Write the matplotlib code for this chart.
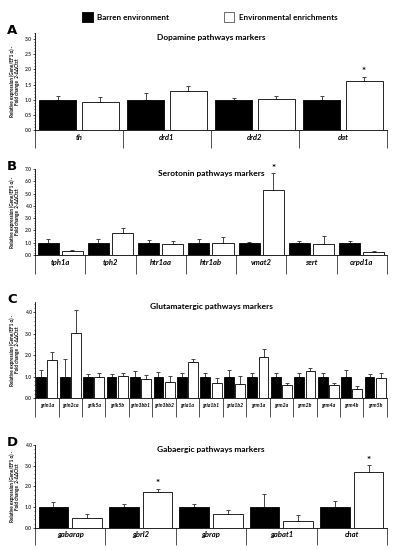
import numpy as np
import matplotlib.pyplot as plt
from matplotlib.patches import Rectangle
from matplotlib.ticker import MultipleLocator

plt.rcParams['font.family'] = ['Lato', 'DejaVu Sans']

# Panel A - dopamine
genes_a = ['th', 'drd1', 'drd2', 'dat']
barren_a = [1.0, 1.0, 1.0, 1.0]
barren_a_err = [0.13, 0.21, 0.07, 0.13]
enrich_a = [0.93, 1.30, 1.03, 1.61]
enrich_a_err = [0.17, 0.15, 0.09, 0.15]
star_a = [False, False, False, True]

# Panel B - serotonin
genes_b = ['tph1a', 'tph2', 'htr1aa', 'htr1ab', 'vmat2', 'sert', 'orpd1a']
barren_b = [1.0, 1.0, 1.0, 1.0, 1.0, 1.0, 1.0]
barren_b_err = [0.27, 0.27, 0.20, 0.30, 0.08, 0.17, 0.17]
enrich_b = [0.29, 1.82, 0.87, 1.0, 5.26, 0.91, 0.21]
enrich_b_err = [0.13, 0.38, 0.30, 0.46, 1.38, 0.62, 0.13]
star_b = [False, False, False, False, True, False, False]

# Panel C - glutamate
genes_c = ['grin1a', 'grin2ca', 'grik5a', 'grik5b', 'grin3bb1', 'grin3bb2',
           'gria1a', 'gria1b1', 'gria1b2', 'grm1a', 'grm2a', 'grm2b',
           'grm4a', 'grm4b', 'grm5b']
barren_c = [1.0] * 15
barren_c_err = [0.30, 0.82, 0.14, 0.14, 0.27, 0.23, 0.16, 0.16, 0.31,
                0.20, 0.19, 0.16, 0.19, 0.31, 0.14]
enrich_c = [1.80, 3.05, 1.00, 1.02, 0.90, 0.76, 1.67, 0.73, 0.66, 1.91,
            0.63, 1.25, 0.63, 0.42, 0.96]
enrich_c_err = [0.36, 1.05, 0.17, 0.14, 0.19, 0.30, 0.16, 0.22, 0.37,
                0.38, 0.10, 0.16, 0.10, 0.14, 0.22]
star_c = [False] * 15

# Panel D - GABA
genes_d = ['gabarap', 'gbrl2', 'gbrap', 'gabat1', 'chat']
barren_d = [1.0, 1.0, 1.0, 1.0, 1.0]
barren_d_err = [0.24, 0.15, 0.16, 0.63, 0.31]
enrich_d = [0.47, 1.74, 0.68, 0.31, 2.69]
enrich_d_err = [0.17, 0.14, 0.20, 0.29, 0.32]
star_d = [False, True, False, False, True]

fig = plt.figure(figsize=(3.94, 5.5), dpi=100)


def panel(rect, genes, b, be, e, ee, stars, ymax, major, minor, title,
          letter, glab_size, ticklen):
    ax = fig.add_axes(rect)
    n = len(genes)
    idx = np.arange(n)
    xb = idx + 0.26
    xw = idx + 0.74
    ax.bar(xb, b, width=0.42, color='black', edgecolor='black', lw=0.6, zorder=2)
    ax.bar(xw, e, width=0.42, color='white', edgecolor='black', lw=0.6, zorder=2)
    ax.errorbar(xb, b, yerr=[np.zeros(n), be], fmt='none', ecolor='#444444',
                elinewidth=0.7, capsize=1.3, capthick=0.7, zorder=1)
    ax.errorbar(xw, e, yerr=[np.zeros(n), ee], fmt='none', ecolor='#444444',
                elinewidth=0.7, capsize=1.3, capthick=0.7, zorder=1)
    for i in range(n):
        if stars[i]:
            ax.annotate('*', (xw[i], e[i] + ee[i]), xytext=(0, 0.5),
                        textcoords='offset points', ha='center', va='bottom',
                        fontsize=7, fontweight='bold')
    ax.set_xlim(0, n)
    ax.set_ylim(0, ymax)
    ax.spines['top'].set_visible(False)
    ax.spines['right'].set_visible(False)
    ax.spines['left'].set_linewidth(0.6)
    ax.spines['bottom'].set_linewidth(0.6)
    # group dividers below axis
    ax.set_xticks(np.arange(n + 1))
    ax.set_xticklabels([])
    ax.tick_params(axis='x', which='major', length=ticklen, width=0.6,
                   color='#333333')
    ax.set_xticks(idx + 0.5, minor=True)
    ax.set_xticklabels(genes, minor=True, fontsize=glab_size,
                       fontstyle='italic', fontweight='bold')
    ax.tick_params(axis='x', which='minor', length=0, pad=ticklen * 0.22)
    ax.yaxis.set_major_locator(MultipleLocator(major))
    ax.yaxis.set_minor_locator(MultipleLocator(minor))
    ax.set_yticks(np.arange(0, ymax + 0.001, major))
    ax.set_yticklabels(['%.1f' % v for v in np.arange(0, ymax + 0.001, major)],
                       fontsize=3.6, fontweight='bold', color='#333333')
    ax.tick_params(axis='y', which='major', length=1.5, width=0.5, pad=1)
    ax.tick_params(axis='y', which='minor', length=0.8, width=0.4)
    ax.set_ylabel('Relative expression (Gene/EF1 α) -\nFold change  2-ΔΔCtct',
                  fontsize=3.3, fontweight='bold', labelpad=3, linespacing=1.1)
    pos = ax.get_position()
    fig.text(0.5 * (pos.x0 + pos.x1), pos.y1 - 0.002, title, ha='center',
             va='top', fontsize=6, fontweight='bold')
    fig.text(0.018, pos.y1 + 0.004, letter, ha='left', va='center',
             fontsize=9.5, fontweight='bold', family='DejaVu Sans')
    return ax


L, W = 0.089, 0.893
panel([L, 0.7636, W, 0.1764], genes_a, barren_a, barren_a_err, enrich_a,
      enrich_a_err, star_a, 3.2, 0.5, 0.1, 'Dopamine pathways markers',
      'A', 5.5, 13)
panel([L, 0.5364, W, 0.1564], genes_b, barren_b, barren_b_err, enrich_b,
      enrich_b_err, star_b, 7.0, 1.0, 0.2, 'Serotonin pathways markers',
      'B', 5.5, 14)
panel([L, 0.2758, W, 0.1756], genes_c, barren_c, barren_c_err, enrich_c,
      enrich_c_err, star_c, 4.5, 1.0, 0.2, 'Glutamatergic pathways markers',
      'C', 3.7, 14)
panel([L, 0.0405, W, 0.1505], genes_d, barren_d, barren_d_err, enrich_d,
      enrich_d_err, star_d, 4.0, 1.0, 0.2, 'Gabaergic pathways markers',
      'D', 5.5, 12)

# legend
fig.add_artist(Rectangle((82 / 394, 1 - 22 / 550), 11 / 394, 10 / 550,
                         transform=fig.transFigure, facecolor='black',
                         edgecolor='black', lw=0.6))
fig.text(97 / 394, 1 - 17 / 550, 'Barren environment', ha='left',
         va='center', fontsize=5.8, fontweight='bold')
fig.add_artist(Rectangle((224 / 394, 1 - 22 / 550), 10 / 394, 10 / 550,
                         transform=fig.transFigure, facecolor='white',
                         edgecolor='#555555', lw=0.6))
fig.text(239 / 394, 1 - 17 / 550, 'Environmental enrichments', ha='left',
         va='center', fontsize=5.8, fontweight='bold')

fig.savefig('out.png', dpi=100)
